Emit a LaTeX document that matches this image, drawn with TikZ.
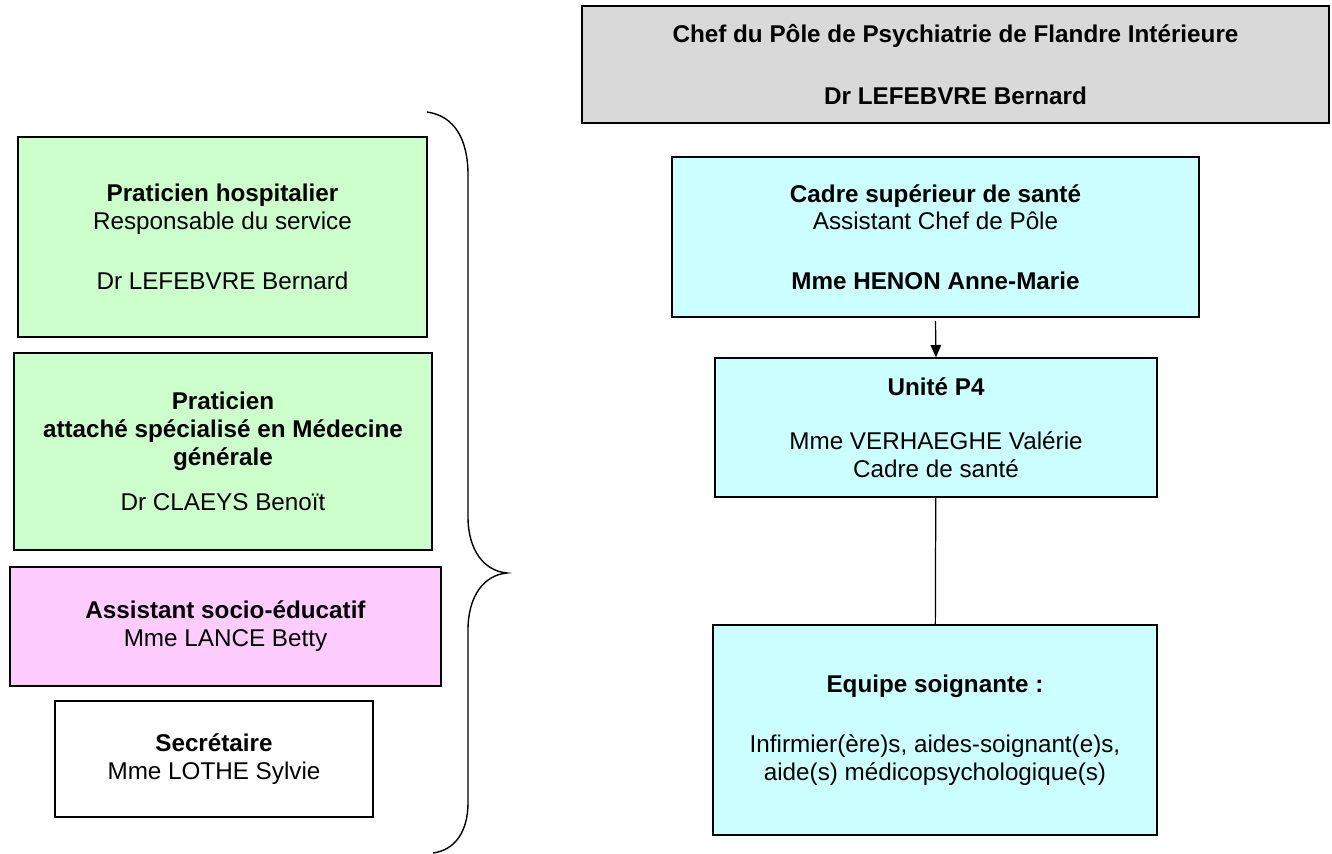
\documentclass[tikz,border=0pt]{standalone}
\usepackage{fontspec}
\setmainfont{Liberation Sans}
\usepackage{tikz}
\usetikzlibrary{arrows.meta, positioning}
\definecolor{polegray}{RGB}{217,217,217}
\definecolor{medgreen}{RGB}{204,255,204}
\definecolor{socialpink}{RGB}{255,204,255}
\definecolor{carecyan}{RGB}{204,255,255}

\begin{document}
\begin{tikzpicture}[
    x=0.02cm, y=-0.02cm,
    box/.style={draw=black, line width=0.8pt, align=center, inner sep=0pt,
        font=\fontsize{13.8}{15.9}\selectfont},
    link/.style={line width=0.7pt}
]
\useasboundingbox (0,0) rectangle (1332,854);

% Chef de pole
\node[box, fill=polegray, minimum width=14.94cm, minimum height=2.34cm] (chef) at (955.5,64.5)
  {\textbf{Chef du Pôle de Psychiatrie de Flandre Intérieure}\\[19pt]\textbf{Dr LEFEBVRE Bernard}};

% Left column - medical and social staff
\node[box, fill=medgreen, minimum width=8.18cm, minimum height=4cm] (praticien) at (222.5,237)
  {\textbf{Praticien hospitalier}\\Responsable du service\\[18pt]Dr LEFEBVRE Bernard};
\node[box, fill=medgreen, minimum width=8.36cm, minimum height=3.94cm] (attache) at (223,451.5)
  {\textbf{Praticien}\\\textbf{attaché spécialisé en Médecine}\\\textbf{générale}\\[9.6pt]Dr CLAEYS Benoït};
\node[box, fill=socialpink, minimum width=8.62cm, minimum height=2.38cm] (social) at (225.5,626.5)
  {\textbf{Assistant socio-éducatif}\\Mme LANCE Betty};
\node[box, fill=white, minimum width=6.36cm, minimum height=2.32cm] (secretaire) at (214,759)
  {\textbf{Secrétaire}\\Mme LOTHE Sylvie};

% Brace
\draw[line width=0.8pt] (427,112) .. controls (455,116) and (468,140) .. (468,175)
  -- (468,517) .. controls (468,550) and (484,571) .. (507,573)
  .. controls (484,575) and (468,596) .. (468,630)
  -- (468,803) .. controls (468,830) and (456,850) .. (433,853);

% Right column - nursing staff
\node[box, fill=carecyan, minimum width=10.54cm, minimum height=3.2cm] (cadre) at (935.5,237)
  {\textbf{Cadre supérieur de santé}\\Assistant Chef de Pôle\\[18pt]\textbf{Mme HENON Anne-Marie}};
\node[box, fill=carecyan, minimum width=8.84cm, minimum height=2.78cm] (unite) at (936,427.5)
  {\textbf{Unité P4}\\[15pt]Mme VERHAEGHE Valérie\\Cadre de santé};
\node[box, fill=carecyan, minimum width=8.88cm, minimum height=4.2cm] (equipe) at (935,730)
  {\textbf{Equipe soignante :}\\[18pt]Infirmier(ère)s, aides-soignant(e)s,\\aide(s) médicopsychologique(s)};

% Links
\draw[link, -{Triangle[length=7pt, width=6pt]}] ([yshift=-2pt]cadre.south) -- (unite.north);
\draw[link] (unite) -- (equipe);

\end{tikzpicture}
\end{document}
